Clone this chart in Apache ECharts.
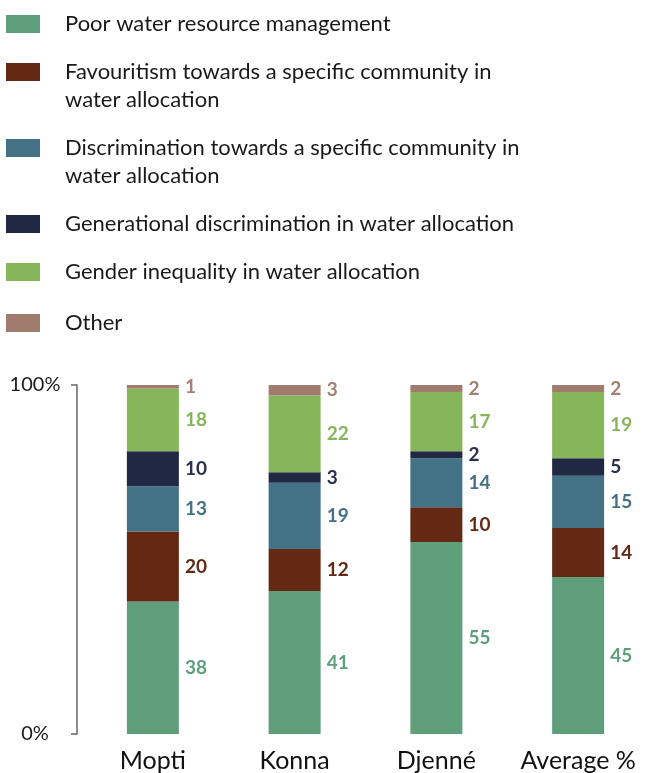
<!DOCTYPE html>
<html>
<head>
<meta charset="utf-8">
<script src="https://cdn.jsdelivr.net/npm/echarts@6/dist/echarts.min.js"></script>
<style>
  html, body { margin: 0; padding: 0; background: #fff; }
  #chart { width: 649px; height: 773px; }
</style>
</head>
<body>
<div id="chart"></div>
<script>
// values (percent of respondents)
const categories = ['Mopti', 'Konna', 'Djenné', 'Average %'];
const seriesNames = [
  'Poor water resource management',
  'Favouritism towards a specific community in water allocation',
  'Discrimination towards a specific community in water allocation',
  'Generational discrimination in water allocation',
  'Gender inequality in water allocation',
  'Other'
];
const poorManagement = [38, 41, 55, 45];
const favouritism = [20, 12, 10, 14];
const discrimination = [13, 19, 14, 15];
const generational = [10, 3, 2, 5];
const gender = [18, 22, 17, 19];
const other = [1, 3, 2, 2];
const yTickLabels = { 0: '0%', 100: '100%' };

const values = [poorManagement, favouritism, discrimination, generational, gender, other];
const colors = ['#5e9e7b', '#632912', '#437186', '#212843', '#85b65a', '#a07c6f'];
const labelColors = ['#5e9e7b', '#632912', '#437186', '#2a2f4a', '#85b65a', '#a48072'];

const FONT = 'Lato, "DejaVu Sans", sans-serif';

// the two long names wrap after "in"; a leading blank line keeps the
// first text line level with the swatch
const isLong = (name) => name.includes('community in');
const legendLabel = (name) =>
  isLong(name) ? '\n' + name.replace(' in water allocation', ' in\nwater allocation') : name;

// icon centres of the legend rows
const legendRows = [24, 72, 148, 224, 272, 323];

const legends = seriesNames.map((name, i) => ({
  data: [name],
  orient: 'vertical',
  left: 6,
  top: legendRows[i] - (isLong(name) ? 42 : 14),
  padding: 0,
  itemWidth: 34,
  itemHeight: 18,
  selectedMode: false,
  icon: 'rect',
  formatter: legendLabel,
  textStyle: {
    fontFamily: FONT,
    fontSize: 22,
    lineHeight: 28,
    color: '#1a1a1a',
    padding: [0, 0, 0, 20]
  }
}));

const chart = echarts.init(document.getElementById('chart'), null, { renderer: 'canvas' });

chart.setOption({
  animation: false,
  backgroundColor: '#fff',
  legend: legends,
  grid: { left: 82, top: 385, bottom: 39, width: 578 },
  xAxis: {
    type: 'category',
    data: categories,
    axisLine: { show: false },
    axisTick: { show: false },
    axisLabel: {
      interval: 0,
      margin: 14,
      fontFamily: FONT,
      fontSize: 25,
      color: '#111'
    }
  },
  yAxis: [
    {
      type: 'value',
      min: 0,
      max: 100,
      interval: 100,
      offset: 5,
      splitLine: { show: false },
      axisLine: { show: true, lineStyle: { color: '#666', width: 1.5 } },
      axisTick: { show: true, length: 6, lineStyle: { color: '#666', width: 1.5 } },
      axisLabel: {
        margin: 42,
        align: 'center',
        fontFamily: FONT,
        fontSize: 20,
        color: '#1a1a1a',
        formatter: (v) => yTickLabels[v] || ''
      }
    },
    {
      type: 'value',
      min: 0,
      max: 100,
      interval: 100,
      offset: 5,
      splitLine: { show: false },
      axisLine: { show: false },
      axisTick: { show: true, inside: true, length: 5, lineStyle: { color: '#666', width: 1.5 } },
      axisLabel: { show: false }
    }
  ],
  series: seriesNames.map((name, i) => ({
    name,
    type: 'bar',
    stack: 'total',
    barWidth: 52,
    yAxisIndex: 0,
    data: values[i],
    itemStyle: { color: colors[i] },
    label: {
      show: true,
      position: 'right',
      distance: 6,
      fontFamily: FONT,
      fontWeight: 'bold',
      fontSize: 19,
      color: labelColors[i]
    }
  }))
});
</script>
</body>
</html>
